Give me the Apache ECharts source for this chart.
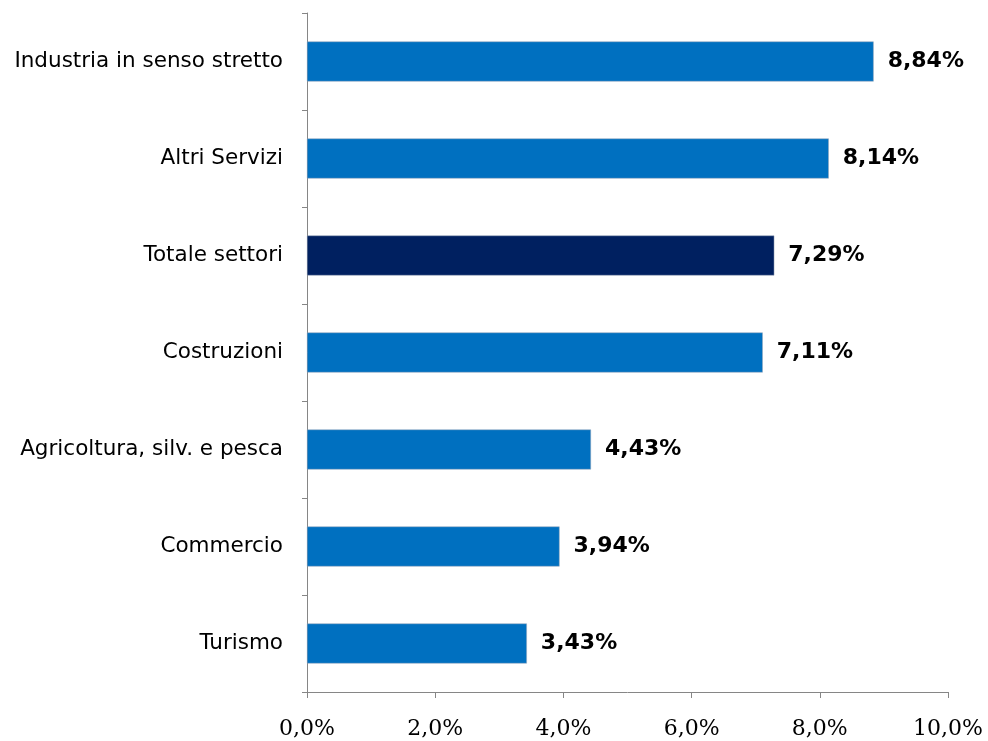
<!DOCTYPE html>
<html>
<head>
<meta charset="utf-8">
<script src="https://cdn.jsdelivr.net/npm/echarts@6/dist/echarts.min.js"></script>
<style>
  html, body { margin: 0; padding: 0; background: #fff; }
  #myChart { width: 988px; height: 741px; }
</style>
</head>
<body>
<div id="myChart"></div>
<script>
// dati (dall'alto verso il basso)
const settori = ['Industria in senso stretto', 'Altri Servizi', 'Totale settori', 'Costruzioni',
  'Agricoltura, silv. e pesca', 'Commercio', 'Turismo'];
const valori = [8.84, 8.14, 7.29, 7.11, 4.43, 3.94, 3.43];
const totaleIdx = 2;

const fmt = (v, d) => v.toFixed(d).replace('.', ',') + '%';

const myChart = echarts.init(document.getElementById('myChart'));
myChart.setOption({
  backgroundColor: '#fff',
  animation: false,
  grid: { left: 307, right: 40, top: 13, bottom: 49 },
  xAxis: {
    type: 'value',
    min: 0,
    max: 10,
    interval: 2,
    splitLine: { show: false },
    axisLine: { show: true, lineStyle: { color: '#868686', width: 1 } },
    axisTick: { show: true, length: 6, lineStyle: { color: '#868686' } },
    axisLabel: {
      formatter: v => fmt(v, 1),
      fontFamily: 'DejaVu Serif',
      fontSize: 22,
      color: '#000',
      margin: 26
    }
  },
  yAxis: {
    type: 'category',
    data: settori,
    inverse: true,
    axisLine: { show: true, lineStyle: { color: '#868686', width: 1 } },
    axisTick: { show: true, length: 5, lineStyle: { color: '#868686' } },
    axisLabel: {
      fontFamily: 'DejaVu Sans',
      fontSize: 21.5,
      color: '#000',
      margin: 24
    }
  },
  series: [{
    type: 'bar',
    barWidth: 40,
    data: valori.map((v, i) => ({
      value: v,
      itemStyle: { color: i === totaleIdx ? '#002060' : '#0070C0' }
    })),
    itemStyle: { borderColor: '#9aa7b8', borderWidth: 0.5 },
    label: {
      show: true,
      position: 'right',
      distance: 14,
      formatter: p => fmt(p.value, 2),
      fontFamily: 'DejaVu Sans',
      fontWeight: 'bold',
      fontSize: 22,
      color: '#000'
    }
  }]
});
</script>
</body>
</html>
